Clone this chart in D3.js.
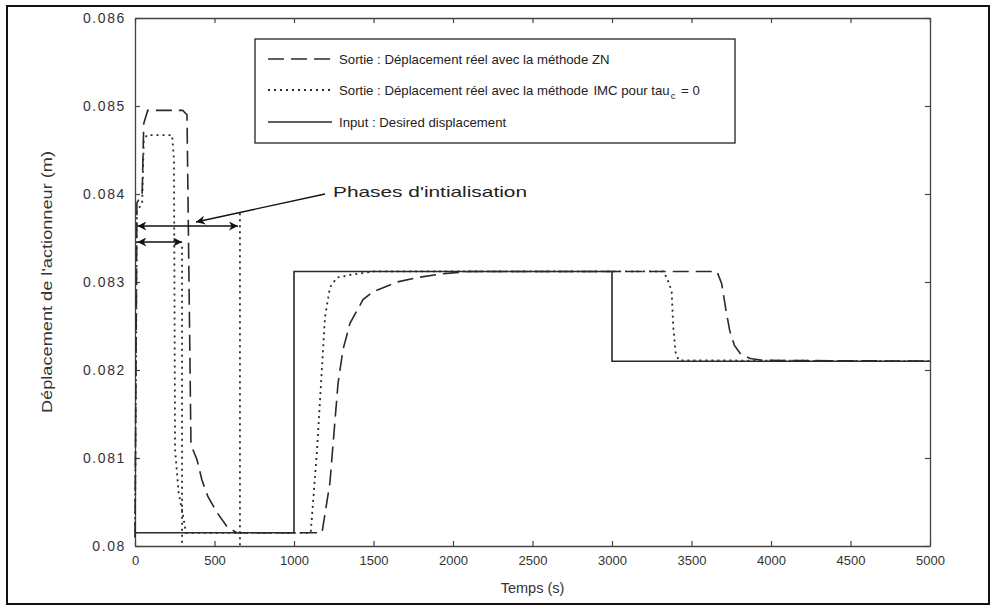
<!DOCTYPE html>
<html><head><meta charset="utf-8">
<script src="https://cdn.jsdelivr.net/npm/d3@7"></script>
<style>
html,body{margin:0;padding:0;background:#fff;}
svg{display:block;font-family:"Liberation Sans",Arial,sans-serif;}
</style></head>
<body>
<svg id="chart" width="992" height="608"></svg>
<script>
// ---- data ----
const xTicks = [0,500,1000,1500,2000,2500,3000,3500,4000,4500,5000];
const yTicks = [0.080,0.081,0.082,0.083,0.084,0.085,0.086];
const yTickLabels = ["0.08","0.081","0.082","0.083","0.084","0.085","0.086"];

const znTime = [0,12,45,55,80,300,327,352,390,421,459,516,579,640,1176,1226,1277,1308,1352,1434,1497,1648,1774,1918,2100,3660,3690,3715,3740,3770,3810,3870,3950,5000];
const znVal  = [0.08010,0.08390,0.08400,0.08480,0.08495,0.08495,0.08490,0.08115,0.08098,0.08075,0.08056,0.08038,0.08022,0.08015,0.08015,0.08072,0.08185,0.08223,0.08253,0.08280,0.08289,0.08300,0.08305,0.08309,0.08312,0.08312,0.08298,0.08270,0.08245,0.08228,0.08218,0.08213,0.08211,0.08210];

const imcTime = [0,12,45,55,75,233,245,252,275,302,320,1105,1145,1176,1195,1226,1270,1352,1500,3320,3345,3375,3385,3400,3420,5000];
const imcVal  = [0.08010,0.08380,0.08390,0.08460,0.08467,0.08467,0.08440,0.08109,0.08060,0.08035,0.08015,0.08015,0.08109,0.08203,0.08260,0.08294,0.08305,0.08308,0.08312,0.08312,0.08305,0.08290,0.08250,0.08220,0.08211,0.08210];

const inputTime = [0,1000,1000,3000,3000,5000];
const inputVal  = [0.08015,0.08015,0.08312,0.08312,0.08210,0.08210];

const phaseEndTime = [296,660];
const phaseEndTop  = [0.08340,0.08378];

const legendLabels = ["Sortie : Déplacement réel avec la méthode ZN",
                      "Sortie : Déplacement réel avec la méthode",
                      "Input : Desired displacement"];
const legendTail = ["IMC pour tau", "c", "= 0"];
const annotationText = "Phases d'intialisation";

// ---- drawing ----
const svg = d3.select("#chart");
const L = 135, R = 930, T = 18, B = 546;
const x = d3.scaleLinear().domain([0,5000]).range([L,R]);
const y = d3.scaleLinear().domain([0.080,0.086]).range([B,T]);
const ink = "#2a2a2a";

svg.append("rect").attr("x",7).attr("y",6).attr("width",982).attr("height",598)
  .attr("fill","#fff").attr("stroke","#111").attr("stroke-width",2);

const defs = svg.append("defs");
defs.append("marker").attr("id","ah").attr("viewBox","0 0 10 10").attr("refX",10).attr("refY",5)
  .attr("markerWidth",13).attr("markerHeight",9).attr("markerUnits","userSpaceOnUse").attr("orient","auto-start-reverse")
  .append("path").attr("d","M0,0 L10,5 L0,10 L3,5 Z").attr("fill","#111");

// axes
function styleAxis(g){
  g.selectAll(".domain").attr("stroke","#444").attr("stroke-width",1.3);
  g.selectAll(".tick line").attr("stroke","#444").attr("stroke-width",1.2);
  g.selectAll(".tick text").attr("fill","#333")
    .attr("font-family","'Liberation Sans',Arial,sans-serif");
}
svg.append("g").attr("transform",`translate(0,${B})`)
  .call(d3.axisBottom(x).tickValues(xTicks).tickSizeInner(-5).tickSizeOuter(0).tickPadding(10).tickFormat(d3.format("d")))
  .call(styleAxis)
  .call(g=>g.selectAll(".tick text").attr("font-size",13));
svg.append("g").attr("transform",`translate(0,${T})`)
  .call(d3.axisTop(x).tickValues(xTicks).tickSizeInner(-5).tickSizeOuter(0).tickFormat(""))
  .call(styleAxis);
svg.append("g").attr("transform",`translate(${L},0)`)
  .call(d3.axisLeft(y).tickValues(yTicks).tickSizeInner(-5).tickSizeOuter(0).tickPadding(9).tickFormat((d,i)=>yTickLabels[i]))
  .call(styleAxis)
  .call(g=>g.selectAll(".tick text").attr("font-size",14).attr("letter-spacing",1.6));
svg.append("g").attr("transform",`translate(${R},0)`)
  .call(d3.axisRight(y).tickValues(yTicks).tickSizeInner(-5).tickSizeOuter(0).tickFormat(""))
  .call(styleAxis);

// axis titles
svg.append("text").attr("x",(L+R)/2).attr("y",593).attr("text-anchor","middle")
  .attr("font-size",14.5).attr("fill","#333").text("Temps (s)");
svg.append("text").attr("transform",`translate(52,${(T+B)/2}) rotate(-90)`).attr("text-anchor","middle")
  .attr("font-size",14.5).attr("fill","#333")
  .attr("textLength",262).attr("lengthAdjust","spacingAndGlyphs")
  .text("Déplacement de l'actionneur (m)");

// lines
const line = d3.line().x(d=>x(d[0])).y(d=>y(d[1]));
const zip = (a,b)=>a.map((t,i)=>[t,b[i]]);
const plot = svg.append("g");
plot.append("path").datum(zip(inputTime,inputVal)).attr("d",line)
  .attr("fill","none").attr("stroke",ink).attr("stroke-width",1.6);
plot.append("path").datum(zip(imcTime,imcVal)).attr("d",line)
  .attr("fill","none").attr("stroke",ink).attr("stroke-width",1.8).attr("stroke-dasharray","2,4");
plot.append("path").datum(zip(znTime,znVal)).attr("d",line)
  .attr("fill","none").attr("stroke",ink).attr("stroke-width",1.6).attr("stroke-dasharray","16,7");
phaseEndTime.forEach((t,i)=>{
  plot.append("line").attr("x1",x(t)).attr("x2",x(t)).attr("y1",y(phaseEndTop[i])).attr("y2",y(0.080))
    .attr("stroke",ink).attr("stroke-width",1.8).attr("stroke-dasharray","2,4");
});

// annotation arrows
const ann = svg.append("g");
ann.append("line").attr("x1",x(15)).attr("x2",x(phaseEndTime[1])-2).attr("y1",226).attr("y2",226)
  .attr("stroke","#111").attr("stroke-width",1.4).attr("marker-start","url(#ah)").attr("marker-end","url(#ah)");
ann.append("line").attr("x1",x(15)).attr("x2",x(phaseEndTime[0])).attr("y1",242).attr("y2",242)
  .attr("stroke","#111").attr("stroke-width",1.4).attr("marker-start","url(#ah)").attr("marker-end","url(#ah)");
ann.append("line").attr("x1",325).attr("y1",194).attr("x2",196).attr("y2",222)
  .attr("stroke","#111").attr("stroke-width",1.3).attr("marker-end","url(#ah)");
ann.append("text").attr("x",333).attr("y",197).attr("font-size",14.5).attr("fill","#222")
  .attr("textLength",194).attr("lengthAdjust","spacingAndGlyphs").text(annotationText);

// legend
const lg = svg.append("g");
lg.append("rect").attr("x",255).attr("y",39).attr("width",480).attr("height",104)
  .attr("fill","#fff").attr("stroke","#333").attr("stroke-width",1.4);
const rowY = [59,90,122];
const dashes = ["16,7","2,4",null];
rowY.forEach((ry,i)=>{
  const l = lg.append("line").attr("x1",268).attr("x2",332).attr("y1",ry).attr("y2",ry)
    .attr("stroke",ink).attr("stroke-width",i===1?1.8:1.6);
  if(dashes[i]) l.attr("stroke-dasharray",dashes[i]);
  const t = lg.append("text").attr("x",339).attr("y",ry+5).attr("font-size",13.2).attr("fill","#222").text(legendLabels[i]);
  if(i===1){
    t.append("tspan").attr("dx",1.5).text(" " + legendTail[0]);
    t.append("tspan").attr("font-size",9.5).attr("dx",1).attr("dy",4).text(legendTail[1]);
    t.append("tspan").attr("dx",2).attr("dy",-4).text(" " + legendTail[2]);
  }
});
</script>
</body></html>
